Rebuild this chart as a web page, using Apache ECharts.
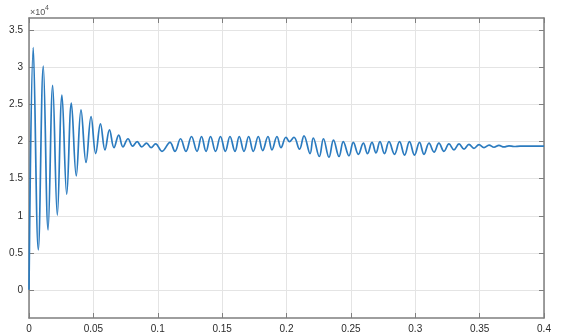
<!DOCTYPE html>
<html>
<head>
<meta charset="utf-8">
<script src="https://cdn.jsdelivr.net/npm/echarts@6/dist/echarts.min.js"></script>
<style>
	html,body{margin:0;padding:0;background:#fff;}
	#chart{width:561px;height:334px;}
</style>
</head>
<body>
<div id="chart"></div>
<script>
	// peaks and troughs (time in s)
	var timeS = [
		0, 0.0033, 0.0072, 0.0111, 0.0148, 0.0184, 0.0220, 0.0256, 0.0293, 0.0329,
		0.0367, 0.0404, 0.0443, 0.0482, 0.0518, 0.0555, 0.0590, 0.0625, 0.0660, 0.0697,
		0.0730, 0.0769, 0.0805, 0.0840, 0.0876, 0.0913, 0.0948, 0.0983, 0.1033, 0.1095,
		0.1134, 0.1177, 0.1219, 0.1262, 0.1305, 0.1340, 0.1375, 0.1410, 0.1449, 0.1487,
		0.1525, 0.1561, 0.1600, 0.1633, 0.1670, 0.1706, 0.1742, 0.1781, 0.1815, 0.1856,
		0.1887, 0.1926, 0.1957, 0.1996, 0.2023, 0.2058, 0.2101, 0.2136, 0.2183, 0.2208,
		0.2255, 0.2287, 0.2330, 0.2365, 0.2408, 0.2441, 0.2485, 0.2519, 0.2558, 0.2597,
		0.2629, 0.2664, 0.2695, 0.2726, 0.2761, 0.2796, 0.2839, 0.2878, 0.2917, 0.2955,
		0.2994, 0.3033, 0.3068, 0.3107, 0.3146, 0.3184, 0.3223, 0.3262, 0.3301, 0.3340,
		0.3379, 0.3417, 0.3456, 0.3495, 0.3534, 0.3573, 0.3612, 0.3650, 0.3689, 0.3728,
		0.3767, 0.3814, 0.4
	];
	var signal = [
		0, 32700, 5400, 30200, 8100, 27600, 10100, 26300, 12900, 25200,
		15400, 24300, 17200, 23400, 18400, 22400, 18900, 21600, 19200, 20900,
		19300, 20400, 19400, 20000, 19300, 19800, 19200, 19700, 18700, 19900,
		18700, 20400, 18700, 20700, 18700, 20700, 18700, 20700, 18700, 20700,
		18700, 20700, 18700, 20700, 18700, 20700, 18700, 20700, 18800, 20700,
		18900, 20700, 19200, 20600, 20000, 20600, 19000, 20800, 18400, 20500,
		18000, 20400, 17900, 20200, 18000, 20000, 18100, 19900, 18300, 19800,
		18400, 19900, 18500, 20000, 18400, 20000, 18300, 20000, 18200, 20000,
		18200, 19900, 18300, 19800, 18600, 19800, 18700, 19700, 18900, 19700,
		19000, 19650, 19100, 19600, 19200, 19550, 19250, 19500, 19300, 19450,
		19350, 19400, 19400
	];
	var xTicks = [0, 0.05, 0.1, 0.15, 0.2, 0.25, 0.3, 0.35, 0.4];
	var yTicks = [0, 5000, 10000, 15000, 20000, 25000, 30000, 35000];

	var frame = '#7f7f7f';
	var labelStyle = {color: '#2b2b2b', fontSize: 10, fontFamily: 'Liberation Sans, Arial, sans-serif'};

	var myChart = echarts.init(document.getElementById('chart'));
	var option = {
		animation: false,
		backgroundColor: '#fff',
		grid: {left: 29, right: 17, top: 18, bottom: 16},
		xAxis: [{
			type: 'value', min: 0, max: 0.4, interval: 0.05,
			axisLine: {onZero: false, lineStyle: {color: frame, width: 1.5}},
			axisTick: {inside: true, length: 5, lineStyle: {color: frame}, customValues: xTicks},
			axisLabel: Object.assign({margin: 6, customValues: xTicks}, labelStyle),
			splitLine: {lineStyle: {color: '#e4e4e4'}}
		}, {
			type: 'value', position: 'top', min: 0, max: 0.4, interval: 0.05,
			axisLine: {onZero: false, lineStyle: {color: frame, width: 1.5}},
			axisTick: {inside: true, length: 5, lineStyle: {color: frame}},
			axisLabel: {show: false},
			splitLine: {show: false}
		}],
		yAxis: [{
			type: 'value', min: -3800, max: 36700,
			axisLine: {show: true, onZero: false, lineStyle: {color: frame, width: 1.5}},
			axisTick: {show: true, inside: true, length: 5, lineStyle: {color: frame}, customValues: yTicks},
			axisLabel: Object.assign({
				margin: 6,
				customValues: yTicks,
				formatter: function (v) { return String(+(v / 10000).toFixed(1)); }
			}, labelStyle),
			splitLine: {lineStyle: {color: '#e4e4e4'}}
		}, {
			type: 'value', position: 'right', min: -3800, max: 36700,
			axisLine: {show: true, onZero: false, lineStyle: {color: frame, width: 1.5}},
			axisTick: {show: true, inside: true, length: 5, lineStyle: {color: frame}, customValues: yTicks},
			axisLabel: {show: false},
			splitLine: {show: false}
		}],
		graphic: [
			{type: 'text', left: 30, top: 8, style: {text: '×10', fontSize: 9, fill: '#555', fontFamily: 'Liberation Sans, Arial, sans-serif'}},
			{type: 'text', left: 45, top: 5, style: {text: '4', fontSize: 7, fill: '#555', fontFamily: 'Liberation Sans, Arial, sans-serif'}}
		],
		series: [{
			type: 'line',
			xAxisIndex: 0,
			yAxisIndex: 0,
			data: timeS.map(function (t, i) { return [t, signal[i]]; }),
			smooth: 0.4,
			showSymbol: false,
			lineStyle: {color: '#2b7bbf', width: 1.7},
			itemStyle: {color: '#2b7bbf'}
		}]
	};
	myChart.setOption(option);
</script>
</body>
</html>
